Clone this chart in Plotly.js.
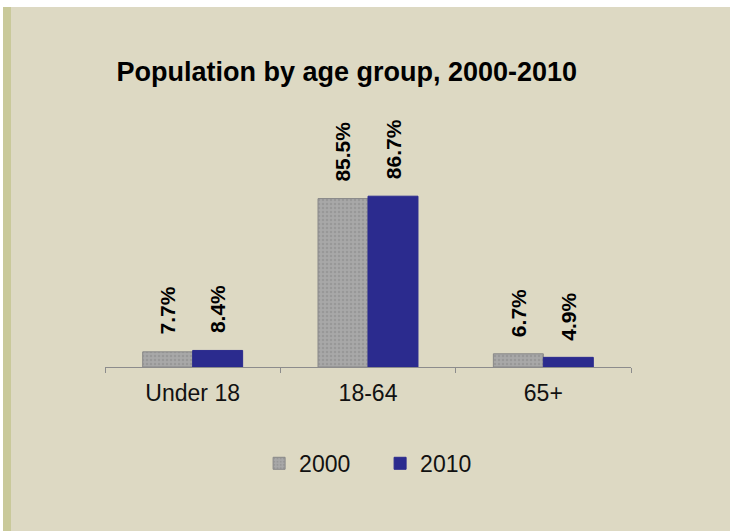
<!DOCTYPE html>
<html>
<head>
<meta charset="utf-8">
<script src="https://cdn.plot.ly/plotly-3.0.1.min.js"></script>
<style>
  html, body { margin:0; padding:0; background:#ffffff; width:730px; height:531px; overflow:hidden; }
  #bg { position:absolute; top:7px; left:3px; width:719px; height:524px; background:#DDD9C3; border-left:8px solid #C9C99A; }
  #chart { position:absolute; top:0; left:0; width:730px; height:531px; }
</style>
</head>
<body>
<div id="bg"></div>
<div id="chart"></div>
<script>
// Data
var categories = ['Under 18', '18-64', '65+'];
var series2000 = [7.7, 85.5, 6.7];
var series2010 = [8.4, 86.7, 4.9];
var seriesNames = ['2000', '2010'];

var FONT = 'Arial, "Liberation Sans", sans-serif';

var traces = [
  {
    type: 'bar', name: seriesNames[0], x: categories, y: series2000,
    marker: {
      color: '#A5A5A5',
      line: { color: '#888888', width: 1 },
      pattern: { shape: '.', bgcolor: '#A8A8A8', fgcolor: '#989898', size: 4, solidity: 0.3 }
    },
    hoverinfo: 'none'
  },
  {
    type: 'bar', name: seriesNames[1], x: categories, y: series2010,
    marker: { color: '#2B2B8E', line: { color: '#2B2B8E', width: 1 } },
    hoverinfo: 'none'
  }
];

var annotations = [];
[series2000, series2010].forEach(function (vals, s) {
  vals.forEach(function (v, i) {
    annotations.push({
      x: categories[i], y: v, xref: 'x', yref: 'y',
      text: '<b>' + v.toFixed(1) + '%</b>',
      textangle: -90, showarrow: false,
      xanchor: 'center', yanchor: 'bottom',
      xshift: s === 0 ? -25 : 25, yshift: 15,
      font: { family: FONT, size: 21, color: '#000000' }
    });
  });
});

var layout = {
  width: 730, height: 531,
  paper_bgcolor: 'rgba(0,0,0,0)',
  plot_bgcolor: 'rgba(0,0,0,0)',
  margin: { l: 105, r: 99, t: 170, b: 164, pad: 0 },
  title: {
    text: '<b>Population by age group, 2000-2010</b>',
    font: { family: FONT, size: 27, color: '#000000' },
    x: 0.475, xref: 'container', xanchor: 'center',
    y: 0.866, yref: 'container', yanchor: 'middle'
  },
  barmode: 'group',
  bargap: 0.43,
  bargroupgap: 0,
  xaxis: {
    type: 'category',
    showline: true, linecolor: '#8C8C8C', linewidth: 1,
    ticks: 'outside', tickson: 'boundaries', ticklen: 5, tickcolor: '#8C8C8C',
    ticklabelstandoff: 5,
    tickfont: { family: FONT, size: 23, color: '#111111' },
    showgrid: false, zeroline: false, fixedrange: true
  },
  yaxis: {
    range: [0, 100], visible: false, showgrid: false, zeroline: false, fixedrange: true
  },
  showlegend: true,
  legend: {
    orientation: 'h',
    x: 0.523, xanchor: 'center', xref: 'paper',
    y: -0.489, yanchor: 'middle', yref: 'paper',
    entrywidth: 76, entrywidthmode: 'pixels',
    font: { family: FONT, size: 23, color: '#111111' },
    bgcolor: 'rgba(0,0,0,0)',
    traceorder: 'normal'
  },
  annotations: annotations
};

Plotly.newPlot('chart', traces, layout, { displayModeBar: false, staticPlot: true });
</script>
</body>
</html>
